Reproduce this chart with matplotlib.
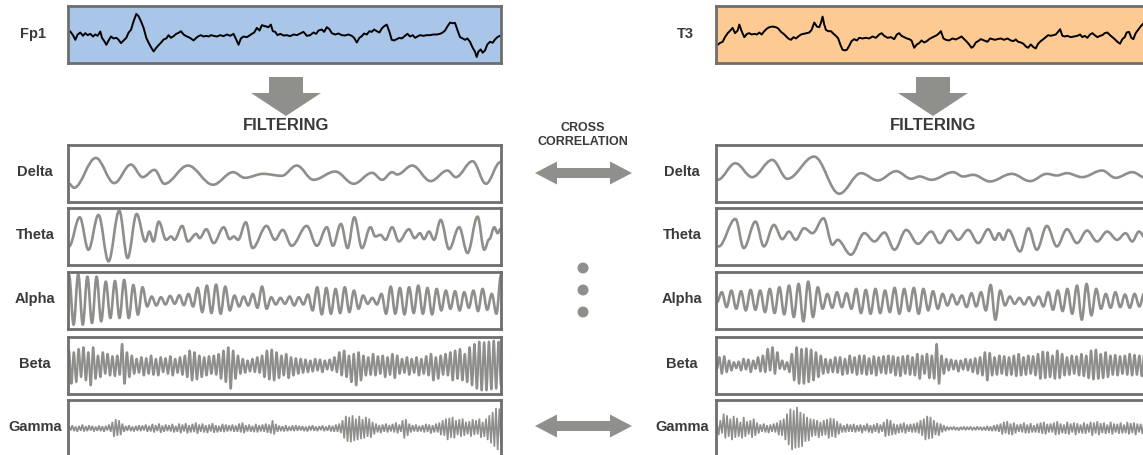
import numpy as np
import matplotlib
matplotlib.use("Agg")
import matplotlib.pyplot as plt
from matplotlib.path import Path
from matplotlib.patches import PathPatch, Polygon, Circle

plt.rcParams['font.family'] = ['Liberation Sans', 'DejaVu Sans']

# ---------------- raw channels (time, amplitude) ----------------
fp1_t = [7, 15, 22, 29, 37, 45, 52, 59, 67, 75, 82, 89, 97, 102, 109, 115, 122, 129, 137, 145,
         152, 159, 167, 175, 182, 189, 197, 205, 212, 219, 227, 235, 242, 249, 257, 265, 272, 279,
         287, 295, 302, 309, 317, 325, 332, 339, 347, 355, 362, 369, 377, 385, 392, 399, 407, 415,
         422, 429, 437, 447, 457, 467, 477, 487, 497, 505, 512, 519, 527, 537, 545, 552, 559, 567,
         575, 582, 592, 602, 609, 615, 622, 629, 637, 647, 657, 667, 677, 687, 697, 707, 717, 727,
         737, 745, 752, 762, 769, 777, 785, 792, 802, 812, 822, 832, 842, 852, 859, 867, 875, 882,
         889, 897, 905, 912, 919, 927, 935, 942, 949, 957, 965, 972, 979, 987, 995, 1002, 1012,
         1019, 1027, 1035, 1042, 1049, 1057, 1067, 1077, 1087, 1097, 1107, 1117, 1125, 1132, 1139,
         1147, 1155, 1162, 1169, 1177, 1185, 1192, 1199, 1207, 1215, 1222, 1227, 1232, 1239, 1245,
         1252, 1259, 1267, 1275, 1282, 1289, 1297]
fp1_a = [9, -2, -16, 0, 6, -4, 4, -2, 2, -6, 0, -4, 9, -10, -20, -31, -18, -6, -12, -10,
         -16, -26, -18, -10, 6, 14, 40, 62, 55, 40, 20, -10, -25, -38, -51, -40, -32, -25,
         -15, -12, -2, -10, -5, 2, 5, 10, 0, -5, -8, -12, -18, -10, -5, -2, -6, -4,
         -6, -2, -4, -6, -2, -5, 0, -4, 2, -15, -31, -12, -6, -8, -3, 2, 6, 20,
         12, 28, 25, 22, 30, 10, 8, -2, 2, -3, -2, -5, 0, -2, 3, 8, -4, -2,
         6, 2, 12, 15, 8, 22, 16, 4, 0, 3, -2, -3, 0, -4, -10, -24, -10, -5,
         3, 0, 10, 8, 15, 10, 6, 18, 25, 30, 8, -16, -18, -14, -10, -12, -4,
         2, -6, -2, -10, -6, -2, -4, -2, -2, 0, 0, 2, 6, 12, 24,
         36, 34, 35, 14, -8, -12, -16, -12, -22, -40, -52, -68, -52, -45, -55,
         -48, -30, -22, -25, -15, -8, -4]

t3_t = [5, 13, 20, 27, 35, 43, 50, 57, 65, 70, 77, 85, 93, 100, 107, 115, 123, 130, 137, 145,
        153, 160, 170, 180, 187, 195, 203, 210, 217, 225, 233, 240, 247, 255, 263, 270, 280, 287,
        295, 303, 310, 315, 320, 325, 330, 337, 345, 353, 360, 367, 373, 380, 387, 393, 400, 407,
        415, 423, 430, 440, 450, 460, 470, 480, 490, 497, 505, 515, 525, 535, 543, 550, 557, 565,
        573, 580, 587, 595, 603, 610, 617, 625, 633, 640, 647, 655, 663, 670, 675, 683, 690, 700,
        710, 720, 730, 737, 745, 753, 760, 767, 773, 780, 787, 795, 805, 815, 823, 830, 837, 845,
        855, 865, 875, 885, 893, 900, 907, 915, 923, 930, 937, 945, 953, 960, 967, 975, 983, 990,
        997, 1005, 1013, 1020, 1027, 1033, 1040, 1047, 1055, 1065, 1075, 1085, 1093, 1100, 1107,
        1115, 1123, 1130, 1137, 1145, 1153, 1160, 1167, 1175, 1183, 1190, 1197, 1205, 1213, 1220,
        1227, 1233, 1240, 1247, 1253, 1260, 1267, 1273, 1280, 1284]
t3_a = [-31, -25, -22, -8, 4, 12, 20, 4, 12, 30, 10, -8, 2, 4, 0, 2, 0, 6, 0, 10,
        18, 22, 24, 22, 18, 8, 2, -5, -12, -16, -8, -12, -6, 0, 2, 4, 6, 14,
        36, 24, 22, 35, 54, 30, 14, 10, 10, 2, -4, -12, -30, -46, -48, -46, -34, -20,
        -14, -18, -10, -12, -10, -12, -6, -10, 0, 4, -4, -10, -8, -14, 0, 4, -4, -8,
        -12, -14, -18, -40, -30, -26, -18, -24, -20, -14, -10, -6, -2, 4, 10, -12, -16, -18,
        -12, -15, -10, -6, -14, -22, -30, -40, -36, -24, -20, -14, -18, -22, -12, -14, -16, -14,
        -12, -16, -12, -18, -20, -15, -22, -24, -28, -36, -40, -30, -38, -42, -28, -20, -14, -8,
        -2, -4, -2, 0, 8, 16, -4, -6, -4, -8, -6, -4, 0, -8, -4,
        -10, 0, 4, -2, -8, -4, -2, 4, 6, -2, -8, -14, -22, -28, -14,
        -8, 6, 8, -10, -14, 4, 14, 22, 30, 34]

# ---------------- left channel bands (Fp1) ----------------
delta_l_t = [0, 15, 80, 135, 185, 220, 255, 285, 355, 430, 490, 525, 580, 635, 680, 730, 795,
             850, 905, 935, 965, 980, 1025, 1080, 1130, 1155, 1205, 1245, 1288]
delta_l_a = [-31, -43, 47, -29, 27, -11, 11, -31, 24, -34, 4, -13, -1, -7, 24, -19, 6,
             -31, 2, -19, 4, -3, 24, -23, 9, -11, 37, -31, 34]

theta_l_t = [0, 32, 58, 88, 118, 150, 175, 202, 228, 240, 252, 268, 290, 305, 315, 338, 355,
             380, 390, 410, 432, 462, 480, 492, 505, 528, 548, 590, 615, 638, 665, 710, 740,
             770, 788, 812, 832, 852, 875, 900, 915, 930, 945, 965, 985, 1015, 1032, 1048,
             1060, 1075, 1090, 1110, 1135, 1165, 1190, 1220, 1240, 1255, 1270, 1280, 1288]
theta_l_a = [-30, 58, -40, 65, -75, 78, -65, 68, -15, 15, -15, 45, -10, 0, -10, 32, -15,
             8, -5, 22, -20, 28, -8, 0, -10, 43, -35, 32, -10, 20, -28, 32, -28,
             28, -28, 38, -35, 58, -35, 28, 0, 5, -10, 28, -15, 22, -5, 10,
             -8, 15, -10, 50, -38, 28, -50, 60, -40, -8, 28, 10, 22]

alpha_l = [77, -73, 79, -73, 72, -68, 72, -63, 57, -53, 59, -53, 62, -53, 47, -43, 40, -18,
           12, -15, 10, -12, 14, -10, 16, -14, 20, -18,
           38, -35, 45, -38, 48, -40, 42, -30,
           15, -18, 12, -15, 20, -22, 42,
           -25, 10, -12, 8, -10, 12, -15, 10, -12, 18,
           -30, 40, -42, 38, -40, 35, -38, 40, -35, 30, -25, 15,
           -10, 8, -12, 20,
           -40, 42, -40, 38, -42, 40, -38, 45, -40, 38, -42, 35, -30,
           30, -25, 28, -30, 25, -22, 30, -32, 35, -28, 20,
           -40, 77]

beta_l = [45, -55, 40, -50, 50, -35, 55, -45, 40, -60,
          55, -40, 30, -35, 40, -25, 35, -30, 28, -32,
          30, -28, 65, -55, 40, -35, 30, -25, 20, -22,
          25, -30, 22, -25, 30, -28, 20, -30, 25, -20,
          22, -25, 28, -30, 20, -22, 25, -28, 30, -35,
          45, -45, 40, -42, 30, -35, 25, -30, 28, -25,
          30, -28, 35, -40, 45, -50, 55, -70, 45, -40,
          30, -25, 20, -22, 15, -18, 20, -20, 25, -22,
          30, -35, 45, -42, 48, -45, 40, -38, 30, -30,
          35, -38, 25, -30, 22, -25, 20, -22, 18, -20,
          15, -18, 20, -15, 18, -20, 15, -12, 18, -15,
          25, -20, 40, -30, 45, -35, 30, -50, 35, -60,
          40, -45, 30, -30, 25, -28, 35, -30, 28, -25,
          30, -35, 25, -28, 35, -38, 30, -25, 20, -22,
          25, -28, 20, -22, 25, -30, 20, -25, 28, -30,
          35, -45, 25, -40, 30, -28, 35, -30, 40, -45,
          45, -40, 50, -45, 35, -50, 55, -60, 65, -70,
          72, -75, 70, -75, 72, -72, 75, -70, 72, -60]

gamma_l = [8, -6, 10, -8, 6, -10, 8, -7, 12, -9, 7, -8, 10, -6, 8, -9, 6, -7, 9, -8,
           7, -10, 8, -6, 12, -10, 20, -25, 28, -22, 25, -20, 15, -10, 8, -7, 10, -8, 6, -9,
           8, -7, 10, -8, 9, -6, 12, -10, 8, -9, 14, -12, 10, -8, 15, -13, 9, -10, 12, -8,
           10, -9, 14, -12, 8, -10, 15, -14, 12, -9, 16, -15, 10, -12, 14, -11, 18, -16, 12, -10,
           15, -12, 10, -14, 12, -9, 16, -13, 10, -12, 8, -10, 14, -11, 12, -9, 10, -8, 12, -10,
           9, -10, 15, -12, 18, -14, 10, -9, 12, -10, 8, -11, 14, -12, 10, -9, 12, -10, 15, -13,
           12, -15, 25, -18, 14, -10, 9, -8, 7, -9, 10, -8, 6, -7, 9, -8, 10, -7, 8, -6,
           7, -8, 6, -9, 8, -6, 10, -7, 6, -8, 7, -5, 9, -8, 6, -7, 10, -9, 8, -10,
           12, -10, 15, -14, 25, -30, 38, -40, 35, -42, 40, -38, 30, -35, 38, -32, 28, -30, 35, -25,
           30, -28, 20, -18, 15, -12, 10, -14, 12, -10, 15, -12, 10, -9, 14, -12, 18, -15, 12, -10,
           25, -30, 28, -22, 15, -12, 10, -9, 12, -10, 8, -9, 10, -12, 14, -10, 12, -15, 10, -12,
           15, -12, 18, -20, 25, -22, 30, -35, 32, -28, 35, -30, 25, -20, 28, -25, 30, -22, 20, -18,
           22, -25, 28, -20, 25, -18, 30, -28, 20, -25, 30, -35, 40, -45, 50, -55, 62, -65, 60, -45]

# ---------------- right channel bands (T3) ----------------
delta_r_t = [2, 55, 105, 165, 210, 290, 365, 430, 480, 535, 580, 605, 640, 705, 735, 765,
             815, 880, 935, 985, 1015, 1045, 1090, 1150, 1190, 1240, 1280, 1295]
delta_r_a = [-19, 31, -11, 41, -16, 51, -61, 1, -21, 7, -16, -9, -19, 4, -9, -4,
             -24, -1, -23, -1, -6, 1, -11, 9, -13, 4, -13, -10]

theta_r_t = [5, 55, 80, 115, 140, 170, 195, 215, 235, 260, 285, 318, 345, 360, 400, 440, 470,
             500, 530, 565, 600, 640, 665, 695, 720, 750, 780, 810, 830, 842, 855, 870, 905,
             930, 955, 985, 1015, 1045, 1075, 1105, 1135, 1165, 1195, 1220, 1240, 1260, 1280]
theta_r_a = [-30, 53, -35, 45, -30, 35, -8, 15, -10, 25, 10, 55, -25, -10, -55, 10, -15,
             12, -40, 20, -22, 15, -20, 18, -10, 20, -20, 22, -10, 10, -10, 20, -45,
             25, -40, 32, -30, 22, -20, 18, -15, 15, -10, 10, -15, 15, -5]

alpha_r = [-5, 25, -20, 30, -25, 28, -30, 32, -28, 30,
           -35, 35, -38, 40, -42, 45, -50,
           50, -63, 57, -50, 40,
           -25, 20, -22, 25, -20, 22, -25,
           35, -38, 32, -40, 35, -38, 30, -35, 38, -40, 35, -32, 38, -40, 35, -30, 28, -25, 20,
           -15, 18, -12, 15, -20, 22, -18, 25,
           -30, 47, -58, 30,
           -15, 12, -10, 8, -12, 10, -15, 12, -18,
           25, -28, 30, -32, 35, -40,
           45, -58, 50, -45, 35,
           -25, 20, -22, 25, -20, 18, -22, 20, -18, 22, -20]

beta_r = [-10, 25, -25, 28, -20, 15, -15, 10, -8, 12,
          -15, 20, -12, 18, -20, 15, -10, 25, -18, 30,
          -20, 50, -15, 55, -25, 40, -10, 15, -12, 10,
          -20, 35, -45, 55, -55, 50, -55, 52, -50, 48,
          -45, 40, -35, 30, -25, 20, -22, 18, -20, 25,
          -22, 25, -28, 20, -25, 30, -22, 25, -28, 30,
          -25, 30, -28, 22, -25, 28, -30, 25, -22, 28,
          -25, 30, -22, 28, -30, 25, -32, 28, -25, 30,
          -28, 25, -30, 35, -40, 30, -25, 35, -38, 30,
          -40, 65, -55, 30, -25, 20, -15, 18, -12, 15,
          -18, 15, -12, 20, -15, 18, -20, 22, -25, 25,
          -30, 40, -45, 38, -30, 25, -28, 30, -25, 28,
          -30, 25, -28, 30, -32, 35, -30, 25, -28, 30,
          -25, 28, -30, 35, -40, 42, -38, 40, -35, 30,
          -40, 45, -38, 35, -30, 25, -28, 30, -25, 28,
          -30, 35, -32, 30, -38, 45, -42, 48, -40, 35,
          -38, 40, -35, 30, -28, 32, -30, 28, -25, 30,
          -28, 35, -30, 32, -28, 30, -32, 35, -30, 28]

gamma_r = [15, -20, 25, -15, 45, -30, 40, -25, 30, -35, 38, -28, 32, -25, 20, -30, 35, -25, 22, -18,
           25, -28, 30, -22, 18, -15, 12, -10, 15, -12, 10, -14, 12, -10, 15, -12, 18, -20, 25, -22,
           30, -35, 45, -50, 60, -65, 55, -60, 65, -58, 50, -55, 45, -40, 35, -38, 30, -25, 28, -22,
           25, -28, 20, -22, 25, -20, 28, -30, 32, -25, 30, -28, 22, -18, 15, -12, 10, -12, 14, -10,
           12, -10, 14, -12, 10, -9, 12, -14, 10, -8, 15, -12, 10, -14, 12, -10, 16, -14, 12, -10,
           20, -25, 28, -22, 25, -20, 15, -18, 12, -14, 15, -12, 18, -15, 12, -10, 14, -12, 15, -12,
           18, -15, 25, -22, 30, -35, 38, -32, 35, -30, 25, -20, 18, -22, 15, -12, 10, -8, 6, -5,
           5, -4, 6, -5, 4, -6, 5, -4, 6, -5, 5, -4, 6, -5, 4, -5, 6, -4, 5, -6,
           5, -6, 8, -7, 6, -8, 10, -8, 12, -10, 15, -18, 20, -15, 22, -18, 15, -20, 18, -15,
           12, -10, 14, -12, 18, -15, 12, -14, 16, -12, 10, -12, 15, -13, 18, -16, 20, -18, 14, -12,
           15, -12, 18, -20, 22, -18, 15, -14, 12, -16, 20, -18, 15, -12, 18, -20, 16, -14, 12, -15,
           18, -16, 14, -12, 20, -22, 18, -15, 22, -20, 16, -14, 18, -16, 12, -14, 20, -18, 15, -12,
           14, -16, 18, -15, 12, -14, 20, -18, 16, -14, 18, -20, 15, -12, 14, -16, 18, -15, 12, -10]

band_names = ["Delta", "Theta", "Alpha", "Beta", "Gamma"]

W, H = 1143, 455
LINE = "#8e8e8a"
EDGE = "#6e6e6e"
TXT = "#3a3a3a"


def smooth(ax, t, a, color=LINE, lw=1.9):
    # bezier through the extrema, flat tangent at each turning point
    verts = [(t[0], a[0])]
    codes = [Path.MOVETO]
    for i in range(1, len(t)):
        d = t[i] - t[i - 1]
        verts += [(t[i - 1] + d * 0.36, a[i - 1]), (t[i] - d * 0.36, a[i]), (t[i], a[i])]
        codes += [Path.CURVE4] * 3
    ax.add_patch(PathPatch(Path(verts, codes), fill=False, edgecolor=color, lw=lw,
                           joinstyle="round", capstyle="round"))


def panel(x0, y0, w, h, face="white"):
    ax = fig.add_axes([x0 / W, 1 - (y0 + h) / H, w / W, h / H])
    ax.set_facecolor(face)
    ax.set_xticks([])
    ax.set_yticks([])
    for s in ax.spines.values():
        s.set_color(EDGE)
        s.set_linewidth(2.0)
    ax.set_ylim(-86, 86)
    return ax


fig = plt.figure(figsize=(W / 100, H / 100), dpi=100)

# raw panels
ax = panel(68, 6, 433, 57, "#a9c6e8")
ax.plot(fp1_t, fp1_a, color="black", lw=1.4)
ax.set_xlim(0, 1300)
ax = panel(716, 6, 433, 57, "#fdca94")
ax.plot(t3_t, t3_a, color="black", lw=1.4)
ax.set_xlim(0, 1300)

rows = [145, 208, 272, 337, 400]
left_bands = [(delta_l_t, delta_l_a), (theta_l_t, theta_l_a), alpha_l, beta_l, gamma_l]
right_bands = [(delta_r_t, delta_r_a), (theta_r_t, theta_r_a), alpha_r, beta_r, gamma_r]

for side, x0, bands in [(0, 68, left_bands), (1, 716, right_bands)]:
    for k, (y0, b) in enumerate(zip(rows, bands)):
        ax = panel(x0, y0, 433, 57)
        if isinstance(b, tuple):
            t, a = b
        else:
            a = b
            t = np.linspace(0, 1290, len(a))
        if k == 4:
            # gamma: spiky, straight segments
            ax.plot(t, a, color=LINE, lw=1.2, solid_joinstyle="miter")
        else:
            smooth(ax, t, a, lw=1.9 if k < 3 else 1.6)
        ax.set_xlim(-3, 1290)

# overlay for labels and arrows (pixel coordinates)
ov = fig.add_axes([0, 0, 1, 1], zorder=10)
ov.set_xlim(0, W)
ov.set_ylim(H, 0)
ov.axis("off")
ov.patch.set_alpha(0)

ov.text(33, 34, "Fp1", ha="center", va="center", fontsize=10.5, fontweight="bold", color=TXT)
ov.text(685, 34, "T3", ha="center", va="center", fontsize=10.5, fontweight="bold", color=TXT)
for y0, name in zip(rows, band_names):
    ov.text(35, y0 + 27, name, ha="center", va="center", fontsize=10.5, fontweight="bold", color=TXT)
    ov.text(682, y0 + 27, name, ha="center", va="center", fontsize=10.5, fontweight="bold", color=TXT)

ARW = "#8f8f8b"
for cx in (286, 933):
    ov.add_patch(Polygon([(cx - 17, 77), (cx + 17, 77), (cx + 17, 93), (cx + 35, 93),
                          (cx, 116), (cx - 35, 93), (cx - 17, 93)], closed=True,
                         facecolor=ARW, edgecolor="none"))
    ov.text(cx, 125, "FILTERING", ha="center", va="center", fontsize=12, fontweight="bold",
            color=TXT)

ov.text(583, 128, "CROSS", ha="center", va="center", fontsize=9, fontweight="bold", color=TXT)
ov.text(583, 142, "CORRELATION", ha="center", va="center", fontsize=9, fontweight="bold", color=TXT)

for cy in (173, 426):
    ov.add_patch(Polygon([(535, cy), (557, cy - 11.5), (557, cy - 5), (610, cy - 5),
                          (610, cy - 11.5), (632, cy), (610, cy + 11.5), (610, cy + 5),
                          (557, cy + 5), (557, cy + 11.5)], closed=True,
                         facecolor=ARW, edgecolor="none"))

for cy in (268, 290, 312):
    ov.add_patch(Circle((583, cy), 5.5, facecolor=ARW, edgecolor="none"))

fig.savefig("out.png", dpi=100)
